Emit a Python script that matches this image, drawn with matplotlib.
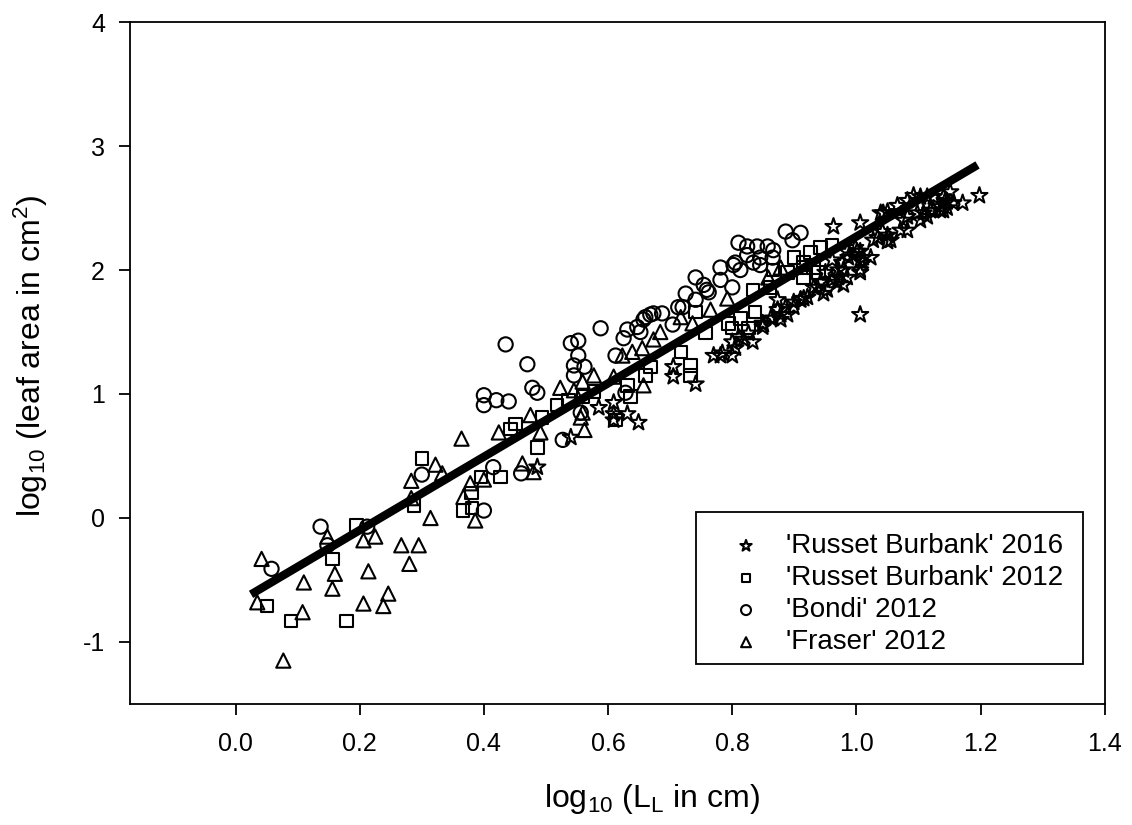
import matplotlib
matplotlib.use("Agg")
import matplotlib.pyplot as plt
from matplotlib.patches import Rectangle
import numpy as np

plt.rcParams['font.family'] = ['Liberation Sans', 'DejaVu Sans']
plt.rcParams['mathtext.default'] = 'regular'
plt.rcParams['axes.unicode_minus'] = False

# 'Russet Burbank' 2016 (stars)
rb16_x = [0.54, 0.486, 0.585, 0.609, 0.609, 0.631, 0.649, 0.705, 0.705, 0.741, 0.770, 0.784,
          0.80, 0.805, 0.818, 0.833, 0.80, 0.849, 0.862, 0.873, 0.609, 0.781, 0.826, 0.849,
          0.873, 0.889, 0.878, 0.899, 0.91, 0.81,
          0.963, 1.006, 1.039, 1.05, 1.066, 1.092, 1.103, 1.14, 1.151, 1.108, 1.119, 1.071,
          1.082, 1.05, 1.034, 1.023, 1.006, 1.006, 1.001, 0.985, 0.971, 0.961, 0.942, 0.953,
          0.979, 0.947, 0.931, 0.915, 0.899, 0.886, 0.878, 0.866, 0.850, 1.006, 0.961, 0.995,
          0.91, 1.043, 1.082, 1.114, 1.124, 1.146, 1.135, 1.14, 1.124, 1.098, 1.103, 1.114,
          1.082, 1.076, 1.042, 1.05, 1.055, 1.027, 0.998, 1.006, 1.011, 1.01, 1.006, 0.985,
          0.987, 0.977, 0.979, 0.971, 0.969, 0.95, 0.937, 0.921,
          1.198, 1.143, 1.156, 1.171, 1.146, 1.135]
rb16_y = [0.65, 0.41, 0.89, 0.93, 0.84, 0.84, 0.77, 1.22, 1.14, 1.08, 1.31, 1.33,
          1.31, 1.37, 1.44, 1.42, 1.42, 1.54, 1.61, 1.76, 0.79, 1.31, 1.49, 1.57,
          1.68, 1.64, 1.60, 1.70, 1.76, 1.46,
          2.35, 2.38, 2.46, 2.47, 2.52, 2.60, 2.59, 2.59, 2.63, 2.46, 2.48, 2.32,
          2.32, 2.23, 2.26, 2.10, 2.08, 1.98, 2.15, 1.94, 1.94, 1.92, 1.90, 1.84,
          1.88, 1.81, 1.86, 1.77, 1.74, 1.70, 1.64, 1.61, 1.56, 1.64, 2.08, 2.12,
          1.76, 2.46, 2.56, 2.59, 2.59, 2.55, 2.51, 2.48, 2.48, 2.46, 2.40, 2.43,
          2.43, 2.40, 2.31, 2.28, 2.24, 2.24, 2.18, 2.15, 2.10, 2.06, 2.00, 2.15,
          2.10, 2.06, 2.00, 2.00, 1.90, 1.98, 1.86, 1.78,
          2.60, 2.56, 2.54, 2.54, 2.50, 2.48]

# 'Russet Burbank' 2012 (squares)
rb12_x = [0.051, 0.089, 0.156, 0.195, 0.179, 0.287, 0.30, 0.427, 0.486, 0.451, 0.443, 0.494,
          0.518, 0.536, 0.366, 0.381, 0.38, 0.395, 0.577, 0.636, 0.66, 0.668, 0.631, 0.612,
          0.733, 0.733, 0.717, 0.80, 0.826, 0.837, 0.757, 0.741, 0.926, 0.942, 0.915, 0.899,
          0.866, 0.794, 0.813, 0.889, 0.861, 0.833, 0.961, 0.915, 0.931, 0.939, 0.915, 0.56]
rb12_y = [-0.71, -0.83, -0.33, -0.06, -0.83, 0.10, 0.48, 0.33, 0.57, 0.76, 0.72, 0.81,
          0.91, 0.95, 0.06, 0.08, 0.20, 0.33, 1.02, 0.98, 1.15, 1.22, 1.07, 0.79,
          1.23, 1.15, 1.34, 1.53, 1.53, 1.66, 1.49, 1.66, 2.14, 2.18, 2.06, 2.10,
          2.00, 1.57, 1.61, 1.98, 1.86, 1.84, 2.20, 2.02, 2.02, 1.98, 1.94, 0.98]

# 'Bondi' 2012 (circles)
bondi_x = [0.058, 0.137, 0.148, 0.212, 0.30, 0.435, 0.47, 0.54, 0.552, 0.552, 0.545, 0.562,
           0.545, 0.40, 0.40, 0.42, 0.44, 0.478, 0.486, 0.527, 0.415, 0.46, 0.40, 0.588,
           0.556, 0.625, 0.631, 0.647, 0.66, 0.668, 0.687, 0.652, 0.612, 0.713, 0.725, 0.741,
           0.754, 0.762, 0.781, 0.802, 0.834, 0.845, 0.704, 0.628, 0.886, 0.91, 0.897, 0.857,
           0.866, 0.657, 0.673, 0.72, 0.81, 0.824, 0.84, 0.865, 0.845, 0.824, 0.805, 0.813,
           0.781, 0.759, 0.741, 0.80]
bondi_y = [-0.41, -0.07, -0.22, -0.07, 0.35, 1.40, 1.24, 1.41, 1.43, 1.31, 1.23, 1.22,
           1.15, 0.99, 0.91, 0.95, 0.94, 1.05, 1.01, 0.63, 0.41, 0.36, 0.06, 1.53,
           0.85, 1.45, 1.52, 1.54, 1.62, 1.64, 1.65, 1.50, 1.31, 1.70, 1.81, 1.94,
           1.88, 1.82, 2.02, 2.04, 2.06, 2.04, 1.56, 1.01, 2.31, 2.30, 2.24, 2.19,
           2.16, 1.60, 1.65, 1.70, 2.22, 2.19, 2.19, 2.10, 2.10, 2.12, 2.06, 2.00,
           1.92, 1.84, 1.76, 1.86]

# 'Fraser' 2012 (triangles)
fraser_x = [0.042, 0.148, 0.11, 0.16, 0.156, 0.108, 0.035, 0.077, 0.206, 0.225, 0.214, 0.267,
            0.28, 0.246, 0.238, 0.206, 0.283, 0.283, 0.295, 0.364, 0.322, 0.333, 0.314, 0.386,
            0.367, 0.378, 0.40, 0.424, 0.475, 0.462, 0.48, 0.523, 0.545, 0.559, 0.577, 0.556,
            0.562, 0.491, 0.559, 0.623, 0.639, 0.655, 0.673, 0.684, 0.717, 0.736, 0.765, 0.792,
            0.657, 0.609, 0.878, 0.858]
fraser_y = [-0.33, -0.15, -0.52, -0.45, -0.57, -0.76, -0.68, -1.15, -0.18, -0.15, -0.43, -0.22,
            -0.37, -0.61, -0.71, -0.69, 0.30, 0.16, -0.22, 0.64, 0.43, 0.36, 0.00, -0.02,
            0.17, 0.28, 0.31, 0.69, 0.83, 0.44, 0.37, 1.05, 1.03, 1.10, 1.15, 0.81,
            0.71, 0.69, 0.85, 1.31, 1.34, 1.37, 1.44, 1.50, 1.62, 1.57, 1.68, 1.77,
            1.07, 1.14, 2.02, 1.94]

# regression line
fit_intercept = -0.69
fit_slope = 2.96
fit_xrange = [0.025, 1.195]

series_labels = ["'Russet Burbank' 2016", "'Russet Burbank' 2012", "'Bondi' 2012", "'Fraser' 2012"]

fig = plt.figure(figsize=(11.32, 8.25), dpi=100)
ax = fig.add_axes([0.1148, 0.1467, 0.976 - 0.1148, 0.9733 - 0.1467])

kw = dict(facecolors='none', edgecolors='black', linewidths=1.5)
ax.scatter(rb16_x, rb16_y, marker='*', s=150, label=series_labels[0], **kw)
ax.scatter(rb12_x, rb12_y, marker='s', s=80, label=series_labels[1], **kw)
ax.scatter(bondi_x, bondi_y, marker='o', s=105, label=series_labels[2], **kw)
ax.scatter(fraser_x, fraser_y, marker='^', s=105, label=series_labels[3], **kw)

fx = np.array(fit_xrange)
ax.plot(fx, fit_intercept + fit_slope * fx, color='black', lw=6, solid_capstyle='butt', zorder=5)

ax.set_xlim(-0.17, 1.4)
ax.set_ylim(-1.5, 4)
ax.set_xticks([0.0, 0.2, 0.4, 0.6, 0.8, 1.0, 1.2, 1.4])
ax.set_xticklabels(['0.0', '0.2', '0.4', '0.6', '0.8', '1.0', '1.2', '1.4'])
ax.set_yticks([-1, 0, 1, 2, 3, 4])
ax.set_yticklabels(['-1', '0', '1', '2', '3', '4'])
ax.tick_params(direction='out', length=8, width=1.3, labelsize=18)
ax.tick_params(axis='x', pad=12)
ax.tick_params(axis='y', pad=10)
for s in ax.spines.values():
    s.set_linewidth(1.3)

ax.set_xlabel('log$_{10}$ (L$_L$ in cm)', fontsize=23)
ax.set_ylabel('log$_{10}$ (leaf area in cm$^2$)', fontsize=23)
ax.xaxis.set_label_coords(0.535, -0.115)
ax.yaxis.set_label_coords(-0.082, 0.51)

# legend box drawn as a rectangle in axes coordinates
ax.add_patch(Rectangle((0.5805, 0.058), 0.397, 0.2815 - 0.058, transform=ax.transAxes,
                       facecolor='white', edgecolor='black', linewidth=1.3, zorder=6))
leg = ax.legend(loc='upper left', bbox_to_anchor=(0.612, 0.2505),
                fontsize=20, markerscale=0.7, frameon=False,
                borderaxespad=0, borderpad=0, handletextpad=0.75, labelspacing=0.22,
                handlelength=1.4)
leg.set_zorder(7)

fig.savefig('out.png', dpi=100)
